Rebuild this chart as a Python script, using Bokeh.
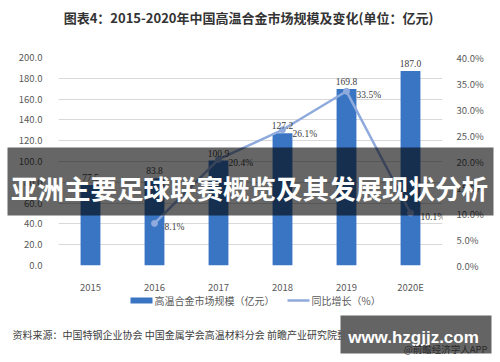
from bokeh.plotting import figure
from bokeh.models import (ColumnDataSource, Range1d, LinearAxis, FixedTicker,
                          NumeralTickFormatter, LabelSet)
from bokeh.core.properties import value
from bokeh.embed import file_html
from bokeh.resources import INLINE

years = ["2015", "2016", "2017", "2018", "2019", "2020E"]
market = [77.5, 83.8, 100.9, 127.2, 169.8, 187.0]
growth_years = ["2016", "2017", "2018", "2019", "2020E"]
growth = [8.1, 20.4, 26.1, 33.5, 10.1]

title_text = "图表4：2015-2020年中国高温合金市场规模及变化(单位：亿元)"
bar_name = "高温合金市场规模（亿元）"
line_name = "同比增长（%）"
source_text = "资料来源：中国特钢企业协会 中国金属学会高温材料分会 前瞻产业研究院整理"
banner_text = "亚洲主要足球联赛概览及其发展现状分析"
site_text = "www.hzgjjz.com"
app_text = "@前瞻经济学人APP"

CJK = "Noto Sans CJK SC"
BAR = "#3A75C4"
LINE = "#8FAADC"
TICK = "#595959"

# frame placement on the page (px): left 58, right 442, top 57, bottom 265
FL, FR, FT, FB = 58, 442, 57, 265
W, H = 496, 358

p = figure(width=W, height=H, x_range=years, y_range=Range1d(0, 200),
           output_backend="svg", toolbar_location=None,
           min_border_left=FL, min_border_right=W - FR,
           min_border_top=FT, min_border_bottom=H - FB)
p.extra_y_ranges = {"pct": Range1d(0, 0.4), "py": Range1d(FB, FT)}
p.outline_line_color = None
p.background_fill_color = "white"
p.border_fill_color = "white"

bar_src = ColumnDataSource(dict(x=years, y=market,
                                lab=["%.1f" % v for v in market]))
line_src = ColumnDataSource(dict(x=growth_years, y=[g / 100 for g in growth],
                                 lab=["%.1f%%" % g for g in growth]))

bars = p.vbar(x="x", top="y", width=0.31, source=bar_src, color=BAR,
              line_color=None)
ln = p.line(x="x", y="y", source=line_src, y_range_name="pct",
            line_color=LINE, line_width=2.5)
pts = p.scatter(x="x", y="y", source=line_src, y_range_name="pct",
                size=6, color=LINE)

# axes
p.yaxis.ticker = FixedTicker(ticks=list(range(0, 201, 20)))
p.yaxis.formatter = NumeralTickFormatter(format="0.0")
for ax in [p.yaxis[0], p.xaxis[0]]:
    ax.axis_line_color = None
    ax.major_tick_line_color = None
    ax.minor_tick_line_color = None
    ax.major_label_text_color = TICK
    ax.major_label_text_font = CJK
    ax.major_label_text_font_size = "9.5px"
p.yaxis.major_label_standoff = 10
p.xaxis.major_label_standoff = 8

rax = LinearAxis(y_range_name="pct",
                 ticker=FixedTicker(ticks=[i * 0.05 for i in range(9)]),
                 formatter=NumeralTickFormatter(format="0.0%"))
rax.axis_line_color = None
rax.major_tick_line_color = None
rax.minor_tick_line_color = None
rax.major_label_text_color = TICK
rax.major_label_text_font = CJK
rax.major_label_text_font_size = "9.5px"
rax.major_label_standoff = 8
p.add_layout(rax, "right")

p.xgrid.grid_line_color = None
p.ygrid.grid_line_color = "#D9D9D9"
p.ygrid.ticker = FixedTicker(ticks=list(range(0, 201, 20)))

# data labels
p.add_layout(LabelSet(x="x", y="y", text="lab", source=bar_src,
                      text_align="center", text_baseline="bottom", y_offset=4,
                      text_font=CJK, text_font_size="9.5px", text_color="#404040"))
p.add_layout(LabelSet(x="x", y="y", text="lab", source=line_src,
                      y_range_name="pct", text_align="left",
                      text_baseline="middle", x_offset=10, y_offset=-4,
                      text_font=CJK, text_font_size="9.5px", text_color="#404040"))

# page-pixel overlay helpers (drawn at overlay level, not clipped to the frame)
UNIT = (FR - FL) / len(years)   # px per category slot

def sx(px):
    return (px - FL) / UNIT

OV = dict(y_range_name="py", level="overlay")

def txt(t, x, y, size, color, align="left", style="normal", font=CJK):
    p.text(x=[sx(x)], y=[y], text=[t], text_font=value(font),
           text_font_size=size, text_color=color, text_align=align,
           text_baseline="middle", text_font_style=style, **OV)

def box(l, r, t, b, color, alpha):
    p.quad(left=[sx(l)], right=[sx(r)], top=[t], bottom=[b], fill_color=color,
           fill_alpha=alpha, line_color=None, **OV)

# title
txt(title_text, 248, 17, "13px", "#333333", align="center", style="bold")

# legend
box(130, 152, 297, 303, BAR, 1.0)
txt(bar_name, 154, 300, "10px", TICK)
p.line(x=[sx(287), sx(309)], y=[300, 300], line_color=LINE, line_width=2.5, **OV)
p.scatter(x=[sx(298)], y=[300], size=6, color=LINE, **OV)
txt(line_name, 311, 300, "10px", TICK)

# source
txt(source_text, 12, 334, "10px", "#404040")

# overlay banner
box(7, 493, 147, 215, "black", 0.6)
txt(banner_text, 249, 187, "26.5px", "white", align="center", style="bold")

# site watermark box
box(340, 491, 315, 353, "#5f5f5f", 0.97)
txt(site_text, 413, 337, "17px", "white", align="center", style="bold",
    font="Liberation Sans")
txt(app_text, 487, 348, "9.5px", "#2a2a2a", align="right")

open("out.html", "w").write(file_html(p, INLINE))
